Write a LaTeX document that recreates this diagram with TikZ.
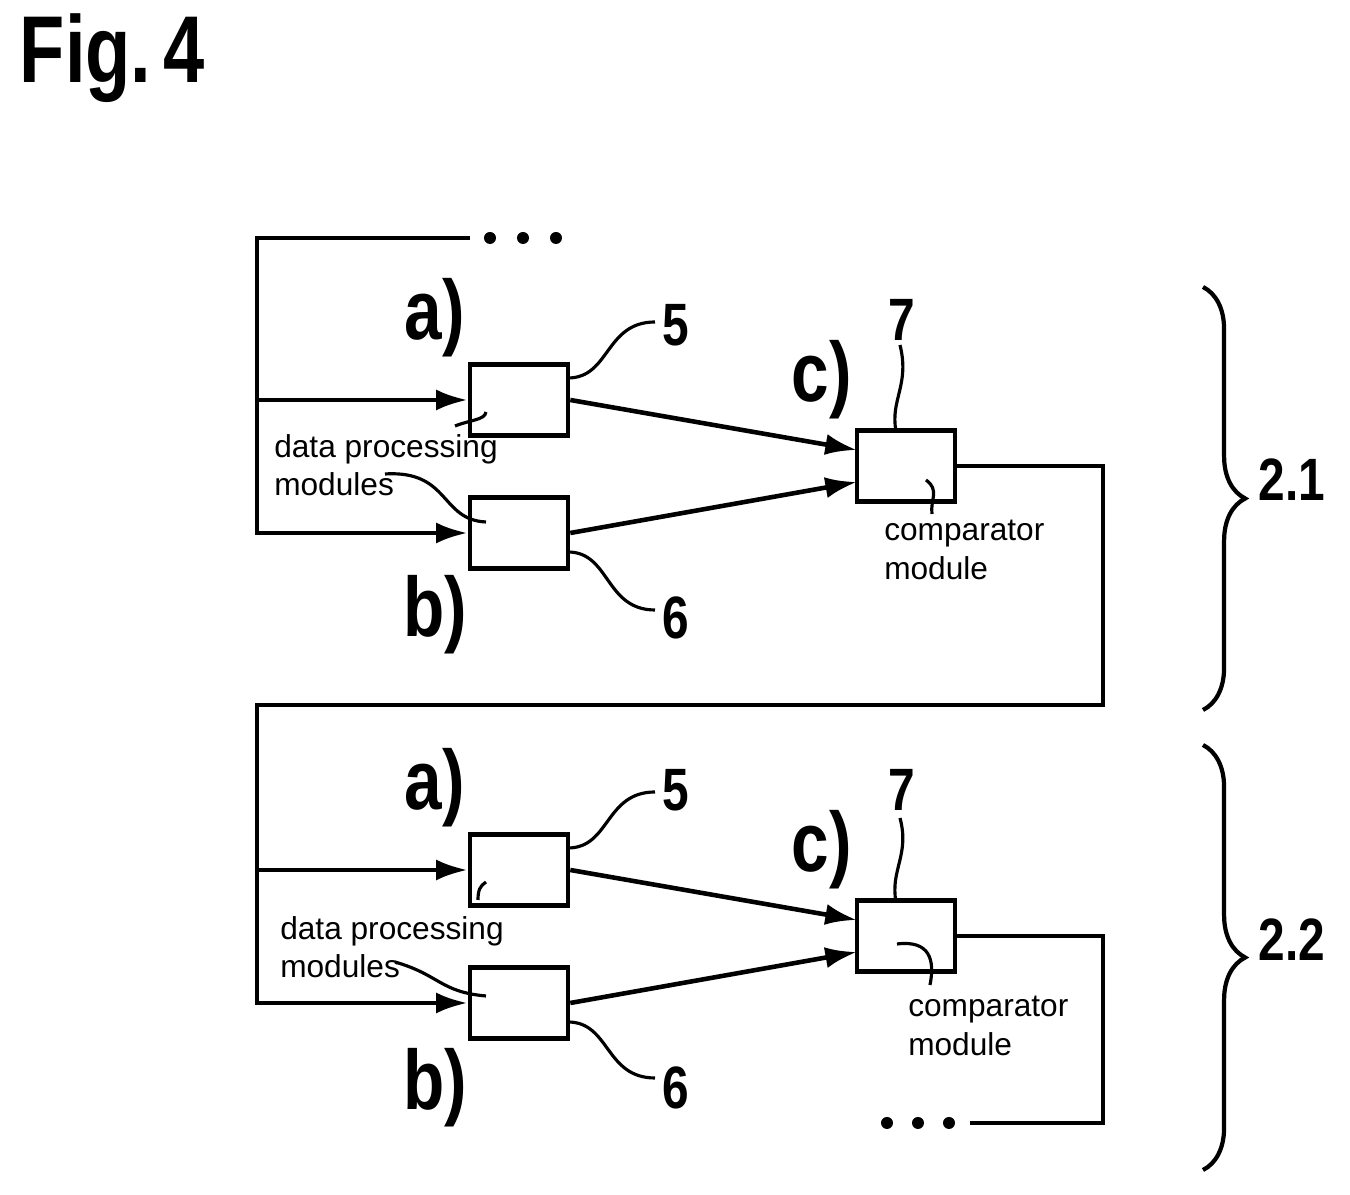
\documentclass[tikz,border=0pt]{standalone}
\usepackage{fontspec}
\setmainfont{Liberation Sans}
\usetikzlibrary{arrows.meta, decorations.pathreplacing}

\begin{document}
\begin{tikzpicture}[x=0.01cm, y=-0.01cm, line width=1.3pt,
    box/.style={draw, minimum width=0.98cm, minimum height=0.71cm, inner sep=0pt},
    arr/.style={-{Latex[length=9pt,width=6pt]}},
    lbl/.style={font=\fontsize{24}{24}\selectfont\bfseries, inner sep=0pt, xscale=0.8},
    num/.style={font=\fontsize{17}{17}\selectfont\bfseries, inner sep=0pt, xscale=0.8},
    txt/.style={font=\fontsize{9}{11}\selectfont, align=left, inner sep=0pt, anchor=north west},
    lead/.style={line width=0.9pt},
    dot/.style={fill, circle, minimum size=0.12cm, inner sep=0pt},
    brc/.style={line width=1.2pt, decorate, decoration={brace, amplitude=12pt}}]
    \useasboundingbox (0,0) rectangle (1350,1195);
    \node[font=\fontsize{27}{27}\selectfont\bfseries, anchor=west, xscale=0.78, inner sep=0pt] (fig) at (18,58) {Fig.\,4};
    % Stufe 2.1
    \node[box] (a1) at (519,400) {};
    \node[box] (b1) at (519,533) {};
    \node[box] (c1) at (906,466) {};
    \coordinate (top) at (470,238);
    \foreach \i/\x in {1/490, 2/523, 3/556} \node[dot] (d1\i) at (\x,238) {};
    \draw (top) -- (257,238) |- (b1.west) [arr];
    \draw[arr] (257,400) -- (a1.west);
    \draw[arr] (a1.east) -- (857,450);
    \draw[arr] (b1.east) -- (857,482);
    \node[lbl] (la1) at (435,318) {a)};
    \node[lbl] (lb1) at (435,615) {b)};
    \node[lbl] (lc1) at (822,380) {c)};
    \node[num] (n51) at (676,325) {5};
    \node[num] (n61) at (676,618) {6};
    \node[num] (n71) at (902,320) {7};
    \draw[lead] (568,378) .. controls (610,378) and (605,322) .. (655,322);
    \draw[lead] (568,552) .. controls (610,552) and (605,610) .. (655,610);
    \draw[lead] (896,431) .. controls (890,400) and (910,385) .. (900,345);
    \node[txt] (dp1) at (272,432) {data processing\\modules};
    \node[txt] (cm1) at (882,518) {comparator\\module};
    \draw[lead] (486,412) .. controls (485,420) and (470,420) .. (455,426);
    \draw[lead] (385,474) .. controls (450,470) and (440,520) .. (486,522);
    \draw[lead] (926,480) .. controls (940,490) and (930,500) .. (932,514);
    % Stufe 2.2
    \node[box] (a2) at (519,870) {};
    \node[box] (b2) at (519,1003) {};
    \node[box] (c2) at (906,936) {};
    \draw (c1.east) -- (1103,466) |- (257,705) |- (b2.west) [arr];
    \draw[arr] (257,870) -- (a2.west);
    \draw[arr] (a2.east) -- (857,920);
    \draw[arr] (b2.east) -- (857,952);
    \node[lbl] (la2) at (435,788) {a)};
    \node[lbl] (lb2) at (435,1088) {b)};
    \node[lbl] (lc2) at (822,850) {c)};
    \node[num] (n52) at (676,790) {5};
    \node[num] (n62) at (676,1088) {6};
    \node[num] (n72) at (902,790) {7};
    \draw[lead] (568,848) .. controls (610,848) and (605,792) .. (655,792);
    \draw[lead] (568,1022) .. controls (610,1022) and (605,1078) .. (655,1078);
    \draw[lead] (896,902) .. controls (890,870) and (910,855) .. (900,818);
    \node[txt] (dp2) at (278,914) {data processing\\modules};
    \node[txt] (cm2) at (906,994) {comparator\\module};
    \draw[lead] (486,882) .. controls (480,886) and (478,890) .. (478,900);
    \draw[lead] (395,962) .. controls (440,975) and (440,992) .. (486,996);
    \draw[lead] (897,944) .. controls (930,940) and (935,960) .. (930,985);
    \coordinate (end) at (970,1123);
    \draw (c2.east) -- (1103,936) |- (end);
    \foreach \i/\x in {1/887, 2/918, 3/949} \node[dot] (d2\i) at (\x,1123) {};
    % Klammern
    \draw[brc] (1203,287) -- (1203,710);
    \draw[brc] (1203,745) -- (1203,1170);
    \node[num] (s21) at (1292,480) {2.1};
    \node[num] (s22) at (1292,940) {2.2};
\end{tikzpicture}
\end{document}
